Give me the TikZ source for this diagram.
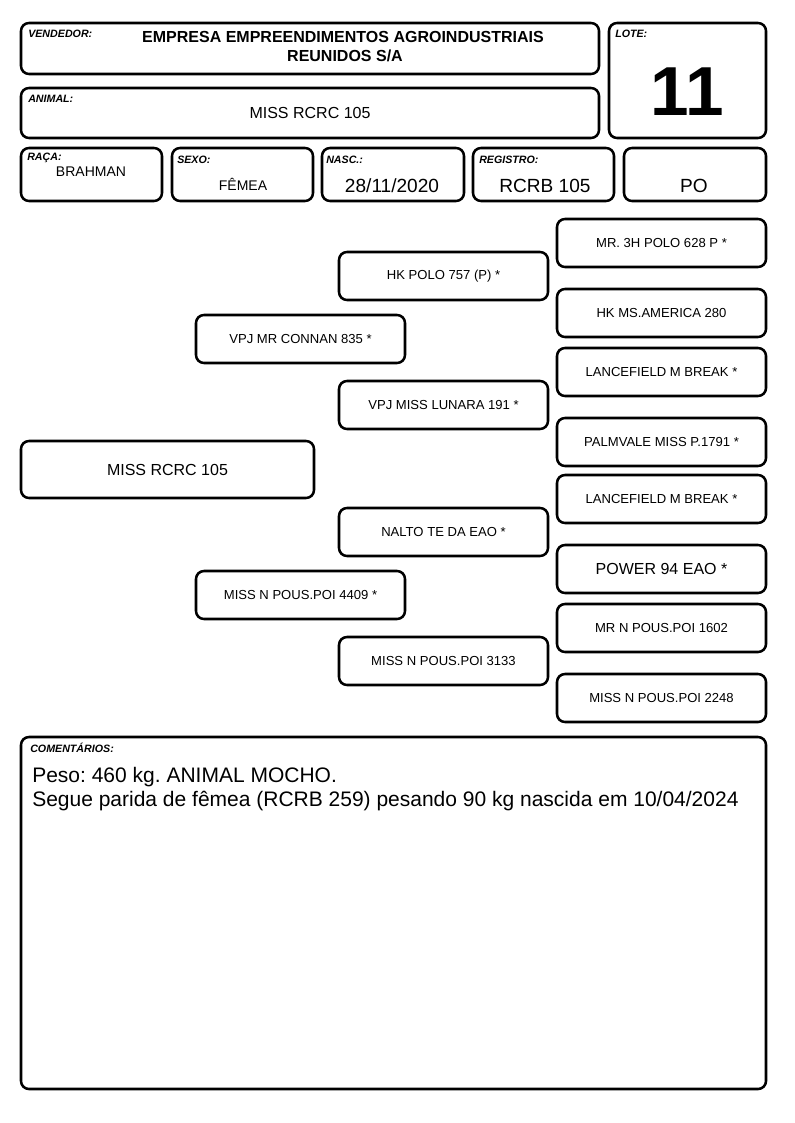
\documentclass[tikz,border=0pt]{standalone}
\usepackage{fontspec}
\setmainfont{Liberation Sans}
\usetikzlibrary{calc}
\frenchspacing
\tikzset{
  frame/.style={draw=black, line width=1.9pt, rounded corners=6pt},
  lbl/.style={anchor=west, inner sep=0pt, font=\fontsize{8}{9}\selectfont\bfseries\itshape},
  ped/.style={inner sep=0pt, font=\fontsize{9.8}{12}\selectfont},
  pedbig/.style={inner sep=0pt, font=\fontsize{12}{14}\selectfont},
  val/.style={inner sep=0pt, font=\fontsize{10.5}{12}\selectfont},
  valbig/.style={inner sep=0pt, font=\fontsize{14.3}{16}\selectfont},
  vend/.style={inner sep=0pt, font=\fontsize{12}{13}\selectfont\bfseries},
  lote/.style={inner sep=0pt, font=\fontsize{52}{56}\selectfont\bfseries},
  comm/.style={anchor=base west, inner sep=0pt, font=\fontsize{15.75}{18}\selectfont},
}
\newcommand\pedbox[7][ped]{%
  \draw[frame] (#3,#4) rectangle (#5,#6);
  \node[#1] (#2) at ($(#3,#4)!0.5!(#5,#6)$) {#7};}
\begin{document}
\begin{tikzpicture}[x=0.75pt,y=-0.75pt]
\useasboundingbox (0,0) rectangle (794,1123);
% header
\draw[frame] (21,23) rectangle (599,74);
\node[lbl] (lvend) at (28,34) {VENDEDOR:};
\node[vend] (vend1) at (343,37) {EMPRESA EMPREENDIMENTOS AGROINDUSTRIAIS};
\node[vend] (vend2) at (345,56) {REUNIDOS S/A};

\draw[frame] (609,23) rectangle (766,138);
\node[lbl] (llote) at (615,34) {LOTE:};
\node[lote] (lote) at (687,92) {11};

\draw[frame] (21,88) rectangle (599,138);
\node[lbl] (lanimal) at (28,99) {ANIMAL:};
\node[pedbig] (animal) at (310,113) {MISS RCRC 105};

\draw[frame] (21,148) rectangle (162,201);
\node[lbl] (lraca) at (27,158) {RAÇA:};
\node[val] (raca) at (91,172) {BRAHMAN};

\draw[frame] (172,148) rectangle (313,201);
\node[lbl] (lsexo) at (177,160) {SEXO:};
\node[val] (sexo) at (243,184) {FÊMEA};

\draw[frame] (322,148) rectangle (464,201);
\node[lbl] (lnasc) at (326,160) {NASC.:};
\node[valbig] (nasc) at (392,186) {28/11/2020};

\draw[frame] (473,148) rectangle (614,201);
\node[lbl] (lreg) at (479,160) {REGISTRO:};
\node[valbig] (reg) at (545,186) {RCRB 105};

\draw[frame] (624,148) rectangle (766,201);
\node[valbig] (po) at (694,186) {PO};

% pedigree
\pedbox[pedbig]{animalp}{21}{441}{314}{498}{MISS RCRC 105}
\pedbox{p}{196}{315}{405}{363}{VPJ MR CONNAN 835 *}
\pedbox{m}{196}{571}{405}{619}{MISS N POUS.POI 4409 *}
\pedbox{pp}{339}{252}{548}{300}{HK POLO 757 (P) *}
\pedbox{pm}{339}{381}{548}{429}{VPJ MISS LUNARA 191 *}
\pedbox{mp}{339}{508}{548}{556}{NALTO TE DA EAO *}
\pedbox{mm}{339}{637}{548}{685}{MISS N POUS.POI 3133}
\pedbox{ppp}{557}{219}{766}{267}{MR. 3H POLO 628 P *}
\pedbox{ppm}{557}{289}{766}{337}{HK MS.AMERICA 280}
\pedbox{pmp}{557}{348}{766}{396}{LANCEFIELD M BREAK *}
\pedbox{pmm}{557}{418}{766}{466}{PALMVALE MISS P.1791 *}
\pedbox{mpp}{557}{475}{766}{523}{LANCEFIELD M BREAK *}
\pedbox[pedbig]{mpm}{557}{545}{766}{593}{POWER 94 EAO *}
\pedbox{mmp}{557}{604}{766}{652}{MR N POUS.POI 1602}
\pedbox{mmm}{557}{674}{766}{722}{MISS N POUS.POI 2248}

% comments
\draw[frame] (21,737) rectangle (766,1089);
\node[lbl] (lcomm) at (30,748) {COMENTÁRIOS:};
\node[comm] (c1) at (32,782.5) {Peso: 460 kg. ANIMAL MOCHO.};
\node[comm] (c2) at (32,806.5) {Segue parida de fêmea (RCRB 259) pesando 90 kg nascida em 10/04/2024};
\end{tikzpicture}
\end{document}
